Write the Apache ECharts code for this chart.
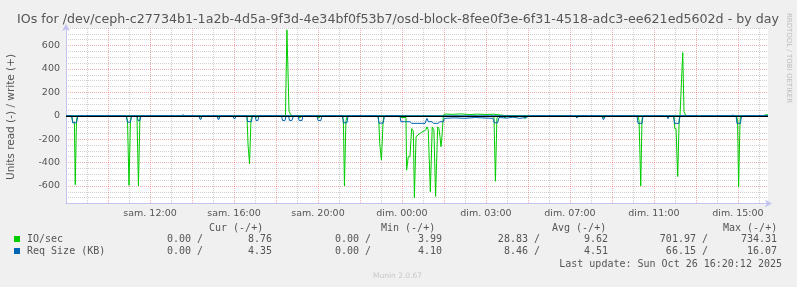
<!DOCTYPE html>
<html><head><meta charset="utf-8">
<script src="https://cdn.jsdelivr.net/npm/echarts@6/dist/echarts.min.js"></script>
<style>html,body{margin:0;padding:0;background:#f0f0f0}#c{width:797px;height:287px}</style>
</head><body><div id="c"></div><script>
// time axis: hours elapsed since Sat 08:00 (local, before DST change)
const xTickHours = [4, 8, 12, 16, 20, 24, 28, 32];
const xTickLabels = ["sam. 12:00","sam. 16:00","sam. 20:00","dim. 00:00","dim. 03:00","dim. 07:00","dim. 11:00","dim. 15:00"];
const yTickValues = [-600, -400, -200, 0, 200, 400, 600];
const X_END = 33.43;

// IO/sec read (plotted downward), [hour, value]
const ioRead = [
[0,0],
[0.27,0],[0.32,55],[0.40,55],[0.44,590],[0.50,30],[0.56,0],
[2.88,0],[2.93,50],[3.0,595],[3.07,40],[3.12,0],
[3.38,0],[3.45,600],[3.52,20],[3.57,0],
[6.33,0],[6.38,15],[6.43,0],
[7.19,0],[7.24,15],[7.29,0],
[7.95,0],[8.0,12],[8.05,0],
[8.62,0],[8.67,250],[8.74,410],[8.81,30],[8.88,0],
[9.0,0],[9.05,20],[9.1,0],
[11.1,0],[11.14,20],[11.19,0],
[12.0,0],[12.05,20],[12.1,0],
[13.17,0],[13.21,50],[13.26,600],[13.33,40],[13.40,0],
[14.86,0],[14.9,60],[14.94,235],[15.02,380],[15.1,50],[15.14,0],
[15.9,0],[15.95,15],[16.19,15],[16.22,465],[16.3,350],[16.38,350],[16.46,110],[16.54,130],[16.59,702],[16.67,180],[16.76,165],[16.86,150],[16.95,140],[17.05,130],[17.14,120],[17.19,95],[17.25,120],[17.35,650],[17.44,95],[17.52,120],[17.6,690],[17.7,95],[17.76,110],[17.81,180],[17.86,265],[17.9,190],[17.97,0],
[18.3,6],[18.7,3],[19.1,8],[19.5,4],[19.9,9],[20.3,5],
[20.38,5],[20.45,560],[20.52,20],[20.6,0],
[20.85,0],[20.9,20],[20.95,0],
[21.28,0],[21.33,15],[21.38,0],
[21.81,0],[21.86,25],[21.91,0],
[24.28,0],[24.33,15],[24.38,0],
[25.52,0],[25.57,20],[25.62,0],
[27.24,0],[27.29,40],[27.37,600],[27.43,30],[27.48,0],
[28.64,0],[28.69,15],[28.74,0],
[28.95,0],[28.99,110],[29.05,110],[29.13,520],[29.2,30],[29.24,0],
[31.93,0],[31.98,40],[32.03,610],[32.1,30],[32.14,0],
[33.43,0]
];
// IO/sec write (plotted upward)
const ioWrite = [
[0,0],[10.45,0],[10.52,734],[10.62,40],[10.69,15],[10.76,0],
[17.97,0],[18.02,15],[18.4,12],[18.8,16],[19.2,10],[19.6,14],[20.0,11],[20.35,13],[20.7,6],[21.0,0],
[29.24,0],[29.37,540],[29.43,35],[29.52,0],
[33.24,0],[33.29,8],[33.43,8]
];
// Req Size (KB) read (plotted downward)
const reqRead = [
[0,0],
[0.27,0],[0.32,60],[0.5,60],[0.57,0],
[2.86,0],[2.93,55],[3.07,55],[3.12,0],
[3.38,0],[3.43,40],[3.52,40],[3.57,0],
[6.33,0],[6.38,30],[6.43,30],[6.48,0],
[7.19,0],[7.24,30],[7.29,30],[7.33,0],
[7.95,0],[8.0,25],[8.05,25],[8.1,0],
[8.6,0],[8.65,50],[8.83,50],[8.88,0],
[9.0,0],[9.05,40],[9.14,40],[9.19,0],
[10.26,0],[10.31,40],[10.43,40],[10.48,0],[10.6,0],[10.64,40],[10.76,40],[10.83,0],
[11.05,0],[11.1,40],[11.24,40],[11.29,0],
[11.95,0],[12.0,40],[12.14,40],[12.19,0],
[13.17,0],[13.21,60],[13.38,60],[13.43,0],
[14.86,0],[14.9,63],[15.1,63],[15.17,0],
[15.9,0],[15.95,51],[16.38,51],[16.46,65],[17.1,65],[17.19,22],[17.25,51],[17.43,51],[17.5,65],[17.71,65],[17.81,51],[17.97,51],[18.02,22],[18.5,18],[19.0,22],[19.5,15],[20.0,20],[20.33,22],[20.4,60],[20.55,60],[20.62,15],[21.0,20],[21.3,12],[21.6,22],[21.9,15],[22.1,0],
[23.57,0],[23.62,10],[23.67,0],
[24.28,0],[24.33,20],[24.38,0],
[25.52,0],[25.57,30],[25.62,30],[25.67,0],
[26.81,0],[26.86,10],[26.9,0],
[27.19,0],[27.24,65],[27.43,65],[27.48,0],
[28.62,0],[28.67,25],[28.71,0],
[28.93,0],[28.98,65],[29.19,65],[29.24,0],
[30.14,0],[30.19,10],[30.24,0],
[31.91,0],[31.95,65],[32.12,65],[32.17,0],
[33.43,0]
];
// Req Size (KB) write (plotted upward)
const reqWrite = [
[0,0],[5.52,0],[5.57,10],[5.62,0],[31.71,0],[31.76,8],[31.81,0],[33.43,0]
];

const legendRows = [
  {name: "IO/sec", color: "#00CC00", vals: ["0.00 /","8.76","0.00 /","3.99","28.83 /","9.62","701.97 /","734.31"]},
  {name: "Req Size (KB)", color: "#0066B3", vals: ["0.00 /","4.35","0.00 /","4.10","8.46 /","4.51","66.15 /","16.07"]}
];
const legendHeaders = ["Cur (-/+)","Min (-/+)","Avg (-/+)","Max (-/+)"];

const TITLE = "IOs for /dev/ceph-c27734b1-1a2b-4d5a-9f3d-4e34bf0f53b7/osd-block-8fee0f3e-6f31-4518-adc3-ee621ed5602d - by day";

const neg = a => a.map(p => [p[0], -p[1]]);
const RED = 'rgba(222,79,79,0.45)';
const GRAY = 'rgba(150,150,150,0.45)';
const AX = '#c4c4f0';
const TXT = '#555';
const mono = '10px "DejaVu Sans Mono"';

function T(text, x, y, align, font, fill, extra) {
  return Object.assign({type: 'text', silent: true, style: {text, x, y, font: font || mono, fill: fill || TXT,
    align: align || 'left', verticalAlign: 'middle', textAlign: align || 'left', textVerticalAlign: 'middle'}}, extra || {});
}

const graphics = [];
graphics.push(T(TITLE, 398, 20, 'center', '12.65px "DejaVu Sans"', TXT));
graphics.push(T("Units read (-) / write (+)", 0, 0, 'center', '10.5px "DejaVu Sans"', TXT, {rotation: Math.PI/2, x: 11, y: 117}));
graphics.push(T("RRDTOOL / TOBI OETIKER", 0, 0, 'center', '7px "DejaVu Sans"', '#bbb', {rotation: -Math.PI/2, x: 789, y: 58}));
const hdrX = [209, 381, 552, 723];
legendHeaders.forEach((h, i) => graphics.push(T(h, hdrX[i], 228, 'left')));
const valRight = [203, 272, 371, 442, 540, 608, 708, 777];
legendRows.forEach((r, j) => {
  const y = 239.5 + j * 12;
  graphics.push({type: 'rect', silent: true, shape: {x: 14, y: y - 3.5, width: 6, height: 6}, style: {fill: r.color}});
  graphics.push(T(r.name, 27, y, 'left'));
  r.vals.forEach((v, i) => graphics.push(T(v, valRight[i], y, 'right')));
});
graphics.push(T("Last update: Sun Oct 26 16:20:12 2025", 782, 264, 'right'));
graphics.push(T("Munin 2.0.67", 373, 276.5, 'left', '7.5px "DejaVu Sans"', '#c8c8c8'));

const chart = echarts.init(document.getElementById('c'), null, {renderer: 'canvas'});
// custom polyline series: every data point is drawn (through the axes' scales via api.coord)
const lineS = (name, data, color, z) => ({
  name, type: 'custom', coordinateSystem: 'cartesian2d', data, z, silent: true, animation: false,
  encode: {x: 0, y: 1}, clip: true,
  renderItem: (params, api) => {
    if (params.dataIndex !== 0) return null;
    const points = data.map(p => api.coord(p));
    return {type: 'polyline', silent: true, shape: {points}, style: {stroke: color, lineWidth: 1, fill: null}};
  }
});
const series = [
  lineS('IO read', neg(ioRead), '#00CC00', 2),
  lineS('IO write', ioWrite, '#00CC00', 2),
  lineS('Req read', neg(reqRead), '#0066B3', 3),
  lineS('Req write', reqWrite, '#0066B3', 3)
];
series.push({type: 'line', data: [], z: 5, silent: true, animation: false,
  markLine: {silent: true, symbol: ['none','none'], label: {show: false}, animation: false,
    lineStyle: {color: '#000', width: 1, type: 'solid'}, data: [{yAxis: 0}]}});

chart.setOption({
  backgroundColor: '#f0f0f0',
  animation: false,
  textStyle: {fontFamily: 'DejaVu Sans'},
  grid: {left: 66, right: 29, top: 28, bottom: 83.5, show: true, backgroundColor: '#fff', borderWidth: 0},
  xAxis: {
    type: 'value', min: 0, max: X_END, interval: 1,
    axisLine: {onZero: false, lineStyle: {color: AX, width: 1}, symbol: ['none', 'arrow'], symbolSize: [6, 7], symbolOffset: [0, 4]},
    axisTick: {show: false},
    axisLabel: {color: TXT, fontSize: 9.5, margin: 5, showMinLabel: false, showMaxLabel: false,
      formatter: v => { const i = xTickHours.indexOf(v); return i >= 0 ? xTickLabels[i] : ''; }},
    splitLine: {show: true, showMaxLine: false, lineStyle: {color: [RED, GRAY], type: [1, 1], width: 1}}
  },
  yAxis: {
    type: 'value', min: -750, max: 750, interval: 50,
    axisLine: {show: true, lineStyle: {color: AX, width: 1}, symbol: ['none', 'arrow'], symbolSize: [6, 7], symbolOffset: [0, 4]},
    axisTick: {show: false},
    axisLabel: {color: TXT, fontSize: 9.5, margin: 6,
      formatter: v => yTickValues.indexOf(v) >= 0 ? String(v) : ''},
    splitLine: {show: true, lineStyle: {color: [GRAY, GRAY, GRAY, RED], type: [1, 1], width: 1}}
  },
  series,
  graphic: {elements: graphics}
});
</script></body></html>
